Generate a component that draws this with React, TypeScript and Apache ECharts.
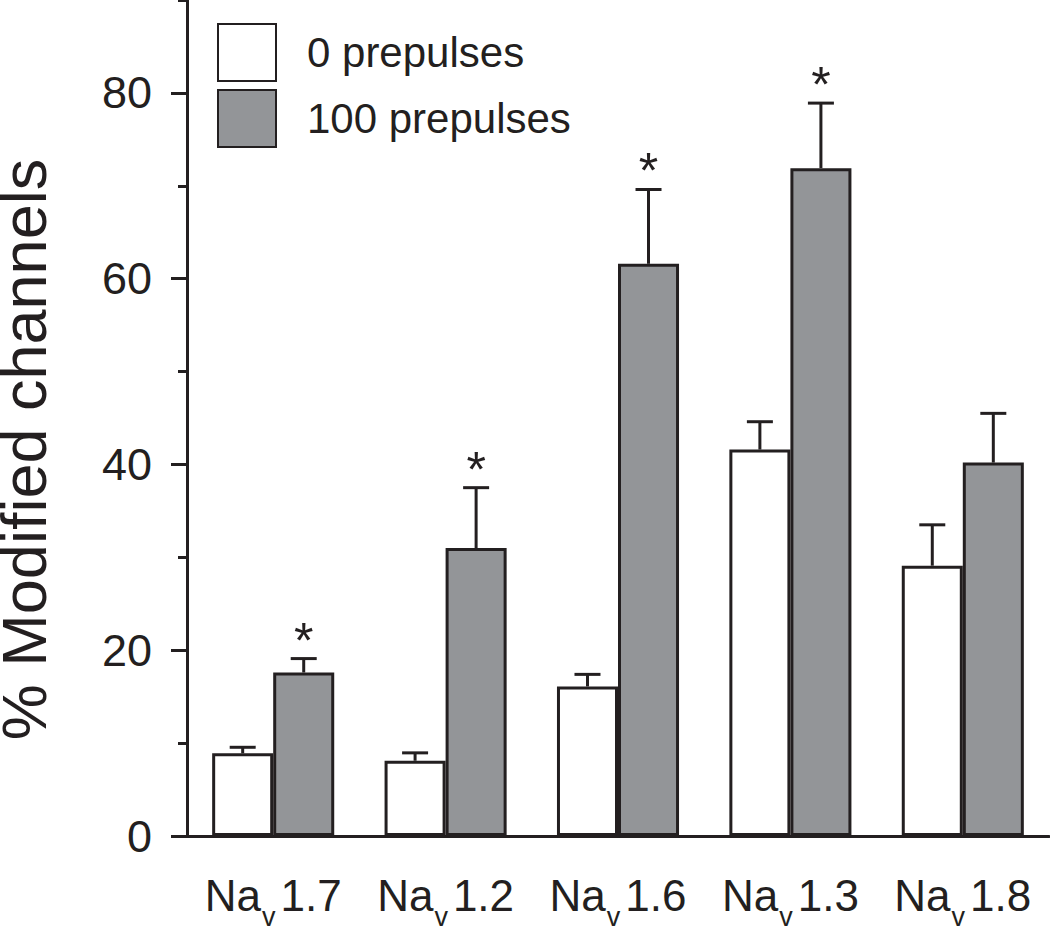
import React, { useEffect, useRef } from 'react';
import * as echarts from 'echarts';

const categories = ['Nav1.7', 'Nav1.2', 'Nav1.6', 'Nav1.3', 'Nav1.8'];
const seriesNames = ['0 prepulses', '100 prepulses'];
const prepulse0 = [8.9, 8.1, 16.1, 41.6, 29.1];
const prepulse0Err = [0.65, 0.85, 1.3, 3.0, 4.4];
const prepulse100 = [17.6, 31.0, 61.6, 71.9, 40.2];
const prepulse100Err = [1.5, 6.5, 8.0, 7.0, 5.3];
const significant0 = [0, 0, 0, 0, 0];
const significant100 = [1, 1, 1, 1, 0];
const yMajorTicks = [0, 20, 40, 60, 80];
const yMinorTicks = [10, 30, 50, 70, 90];

const INK = '#231f20';
const GRAY = '#939598';
const FONT = '"Liberation Sans", Arial, Helvetica, sans-serif';
const BAR_FRAC = 0.354;

function makeErrRender(sign: number) {
  return (params: any, api: any) => {
    const i = api.value(0);
    const v = api.value(1);
    const e = api.value(2);
    const sig = api.value(3);
    const band = api.size([1, 0])[0];
    const off = (sign * band * BAR_FRAC) / 2;
    const base = api.coord([i, v]);
    const top = api.coord([i, v + e]);
    const x = base[0] + off;
    const capHalf = 13;
    const children: any[] = [
      { type: 'line', shape: { x1: x, y1: base[1], x2: x, y2: top[1] }, style: { stroke: INK, lineWidth: 3 } },
      { type: 'line', shape: { x1: x - capHalf, y1: top[1], x2: x + capHalf, y2: top[1] }, style: { stroke: INK, lineWidth: 3 } },
    ];
    if (sig) {
      children.push({
        type: 'text',
        x: x,
        y: top[1] + 7,
        style: { text: '*', fontSize: 50, fontFamily: FONT, fill: INK, align: 'center', verticalAlign: 'bottom' },
      });
    }
    return { type: 'group', children };
  };
}

export default function App() {
  const ref = useRef<HTMLDivElement>(null);
  useEffect(() => {
    document.body.style.margin = '0';
    const chart = echarts.init(ref.current!, undefined, { renderer: 'svg' });
    const errData0 = categories.map((_, i) => [i, prepulse0[i], prepulse0Err[i], significant0[i]]);
    const errData100 = categories.map((_, i) => [i, prepulse100[i], prepulse100Err[i], significant100[i]]);
    chart.setOption({
      animation: false,
      backgroundColor: '#ffffff',
      textStyle: { fontFamily: FONT, color: INK },
      grid: { left: 187, right: 1, top: 0, bottom: 95, containLabel: false, outerBoundsMode: 'none' },
      legend: {
        data: seriesNames,
        orient: 'vertical',
        left: 217,
        top: 23,
        padding: 0,
        icon: 'rect',
        itemWidth: 58,
        itemHeight: 57,
        itemGap: 7,
        textStyle: { fontSize: 42, fontFamily: FONT, color: INK, padding: [0, 0, 0, 26] },
      },
      xAxis: {
        type: 'category',
        data: categories,
        axisLine: { lineStyle: { color: INK, width: 3 } },
        axisTick: { length: 12, lineStyle: { color: INK, width: 3 } },
        axisLabel: {
          margin: 37,
          formatter: (val: string) => `{n|${val.slice(0, 2)}}{s|${val.slice(2, 3)}}{n|${val.slice(3)}}`,
          rich: {
            n: { fontSize: 44, fontFamily: FONT, color: INK, lineHeight: 50, verticalAlign: 'top' },
            s: { fontSize: 27, fontFamily: FONT, color: INK, lineHeight: 27, verticalAlign: 'top', padding: [30, 5, 0, 1] },
          },
        },
      },
      yAxis: [
        {
          type: 'value',
          position: 'left',
          min: 0,
          max: 90,
          interval: 10,
          name: '% Modified channels',
          nameLocation: 'middle',
          nameGap: 140,
          nameTextStyle: { fontSize: 63, lineHeight: 46, fontFamily: FONT, color: INK, padding: [0, 63, 0, 0] },
          axisLine: { show: true, lineStyle: { color: INK, width: 3 } },
          axisTick: { show: true, length: 16, customValues: yMajorTicks, lineStyle: { color: INK, width: 3 } },
          axisLabel: { customValues: yMajorTicks, fontSize: 45, fontFamily: FONT, color: INK, margin: 35 },
          splitLine: { show: false },
        },
        {
          type: 'value',
          position: 'left',
          min: 0,
          max: 90,
          interval: 10,
          axisLine: { show: false },
          axisTick: { show: true, length: 9, customValues: yMinorTicks, lineStyle: { color: INK, width: 3 } },
          axisLabel: { show: false },
          splitLine: { show: false },
        },
      ],
      series: [
        {
          name: seriesNames[0],
          type: 'bar',
          data: prepulse0,
          barWidth: `${BAR_FRAC * 100}%`,
          barGap: '0%',
          itemStyle: { color: '#ffffff', borderColor: INK, borderWidth: 3 },
        },
        {
          name: seriesNames[1],
          type: 'bar',
          data: prepulse100,
          barWidth: `${BAR_FRAC * 100}%`,
          barGap: '0%',
          itemStyle: { color: GRAY, borderColor: INK, borderWidth: 3 },
        },
        { type: 'custom', renderItem: makeErrRender(-1), data: errData0, z: 5 },
        { type: 'custom', renderItem: makeErrRender(1), data: errData100, z: 5 },
      ],
    });
    return () => chart.dispose();
  }, []);
  return <div ref={ref} style={{ width: 1050, height: 931 }} />;
}
